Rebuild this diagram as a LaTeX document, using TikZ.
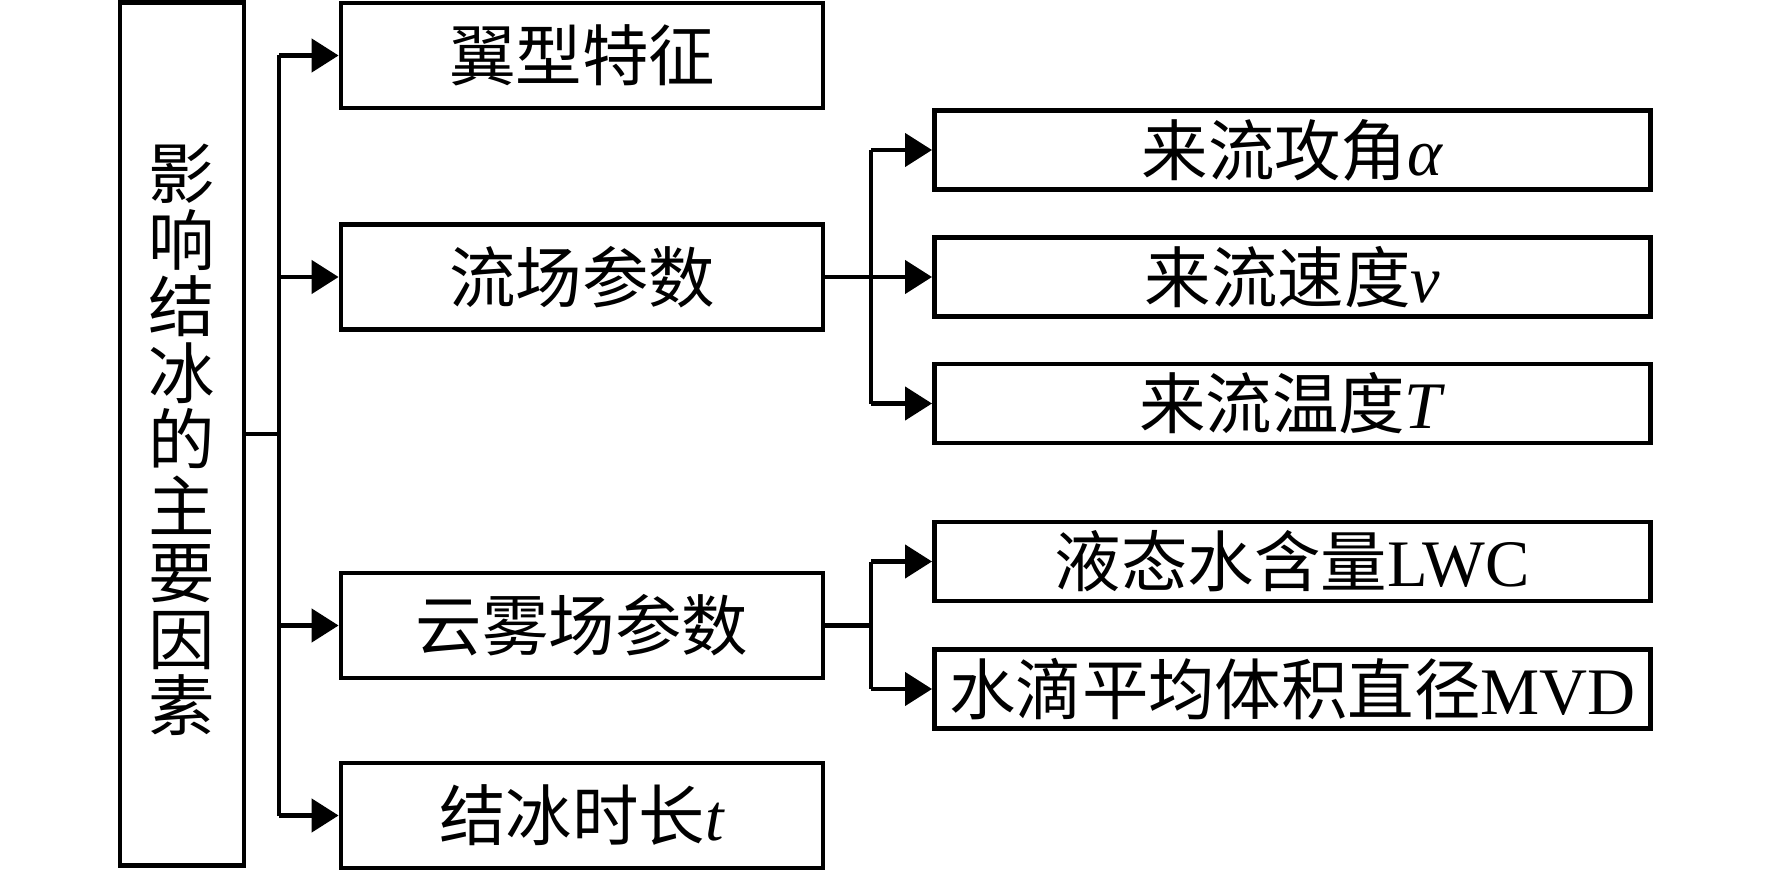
\documentclass[tikz,border=0pt]{standalone}
\usepackage{fontspec}
\setmainfont{Liberation Serif}
\newfontfamily\cjk{Noto Sans CJK SC}
\usetikzlibrary{arrows.meta}

\begin{document}
\begin{tikzpicture}[x = 0.01cm, y = -0.01cm,
		every node/.style = {font = \fontsize{18.9}{18.9}\selectfont},
		box/.style = {draw, line width = 0.045cm, inner sep = 0pt, minimum width = 4.82cm, minimum height = 1.05cm},
		subbox/.style = {draw, line width = 0.045cm, inner sep = 0pt, minimum width = 7.16cm, minimum height = 0.79cm},
		link/.style = {line width = 0.045cm},
		arrow/.style = {link, -{Triangle[length = 0.27cm, width = 0.33cm]}}]
	\def\xMain{182};
	\def\xLeft{582};
	\def\xRight{1292.5};
	\def\xTrunk{279};
	\def\xBranch{871};

	\useasboundingbox (0,0) rectangle (1772,873);

	% main factor
	\node [draw, line width = 0.045cm, minimum width = 1.24cm, minimum height = 8.62cm] (main) at (\xMain,434) {};
	\node [align = center, yshift = -0.06cm] (maintext) at (main.center) {\cjk 影\\\cjk 响\\\cjk 结\\\cjk 冰\\\cjk 的\\\cjk 主\\\cjk 要\\\cjk 因\\\cjk 素};

	% first level
	\begin{scope}
		\node [box] (wing) at (\xLeft,55.5) {\cjk 翼型特征};
		\node [box] (flow) at (\xLeft,277) {\cjk 流场参数};
		\node [box] (cloud) at (\xLeft,625.5) {\cjk 云雾场参数};
		\node [box] (time) at (\xLeft,815.5) {{\cjk 结冰时长}\textit{t}};
	\end{scope}

	% second level
	\begin{scope}
		\node [subbox] (aoa) at (\xRight,150) {{\cjk 来流攻角}\textit{α}};
		\node [subbox] (speed) at (\xRight,277) {{\cjk 来流速度}\textit{v}};
		\node [subbox] (temp) at (\xRight,403.5) {{\cjk 来流温度}\textit{T}};
		\node [subbox] (lwc) at (\xRight,561.5) {{\cjk 液态水含量}LWC};
		\node [subbox] (mvd) at (\xRight,689) {{\cjk 水滴平均体积直径}MVD};
	\end{scope}

	\coordinate (trunk) at (\xTrunk,434);
	\coordinate (flowjoint) at (\xBranch,277);
	\coordinate (cloudjoint) at (\xBranch,625.5);

	\begin{scope}
		\draw [link] (main.east |- trunk) -- (trunk);
		\draw [link] (trunk |- wing.west) -- (trunk |- time.west);
		\draw [arrow] (trunk |- wing.west) -- (wing.west);
		\draw [arrow] (trunk |- flow.west) -- (flow.west);
		\draw [arrow] (trunk |- cloud.west) -- (cloud.west);
		\draw [arrow] (trunk |- time.west) -- (time.west);
	\end{scope}

	\begin{scope}
		\draw [link] (flow.east) -- (flowjoint);
		\draw [link] (flowjoint |- aoa.west) -- (flowjoint |- temp.west);
		\draw [arrow] (flowjoint |- aoa.west) -- (aoa.west);
		\draw [arrow] (flowjoint) -- (speed.west);
		\draw [arrow] (flowjoint |- temp.west) -- (temp.west);
	\end{scope}

	\begin{scope}
		\draw [link] (cloud.east) -- (cloudjoint);
		\draw [link] (cloudjoint |- lwc.west) -- (cloudjoint |- mvd.west);
		\draw [arrow] (cloudjoint |- lwc.west) -- (lwc.west);
		\draw [arrow] (cloudjoint |- mvd.west) -- (mvd.west);
	\end{scope}
\end{tikzpicture}
\end{document}
